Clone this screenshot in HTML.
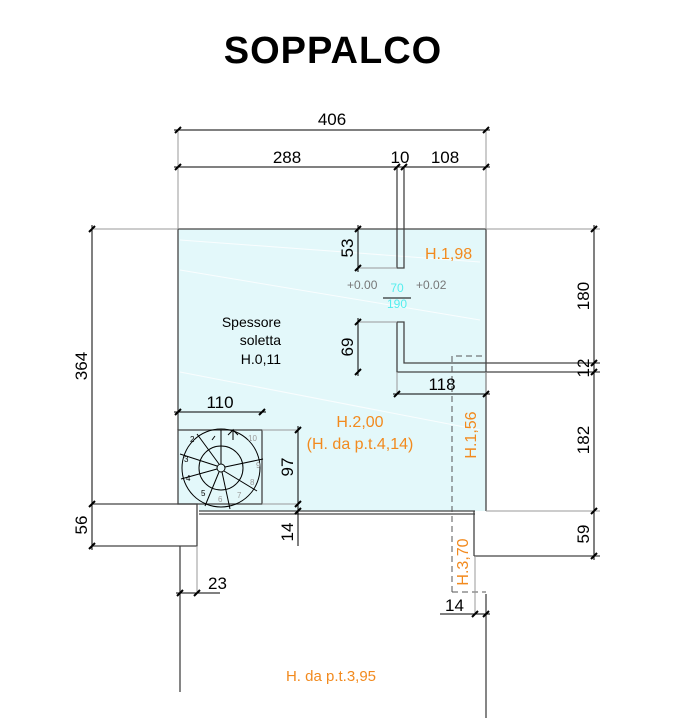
<!DOCTYPE html>
<html><head><meta charset="utf-8"><style>
html,body{margin:0;padding:0;background:#fff;width:693px;height:718px;overflow:hidden}
svg{display:block}
text{font-family:"Liberation Sans",sans-serif}
</style></head><body>
<svg width="693" height="718" viewBox="0 0 693 718" xmlns="http://www.w3.org/2000/svg">
<text x="333" y="63" text-anchor="middle" font-size="38" font-weight="bold" fill="#000" letter-spacing="1">SOPPALCO</text>
<!-- blue fill -->
<path d="M178 229 H486 V511 H199 V504 H178 Z" fill="#e3f8fa"/>
<g stroke="#fff" stroke-width="1" opacity="0.8">
<line x1="180" y1="240" x2="480" y2="262"/><line x1="180" y1="270" x2="480" y2="320"/><line x1="180" y1="372" x2="480" y2="430"/>
</g>
<g stroke="#444" stroke-width="1.3" fill="none">
<path d="M178 229 H486 V511"/>
<line x1="178" y1="229" x2="178" y2="430"/>
<rect x="178" y="430" width="84" height="74"/>
<line x1="199" y1="511" x2="475" y2="511"/><line x1="199" y1="514" x2="475" y2="514"/>
<path d="M92 504 H197 V546 H92"/>
<line x1="180" y1="546" x2="180" y2="692"/>
<line x1="474" y1="511" x2="474" y2="556"/><line x1="474" y1="556" x2="600" y2="556"/>
<line x1="486" y1="594" x2="486" y2="718"/>
<!-- wall -->
<path d="M397 166 V268 H404 V166"/>
<path d="M397 322 H404 V363 H600"/>
<path d="M397 322 V372 H600"/>
</g>
<g stroke="#555" stroke-width="1" stroke-dasharray="6,4" fill="none">
<path d="M452 592 V356 H486"/><line x1="452" y1="592" x2="486" y2="592"/>
</g>
<g stroke="#999" stroke-width="1" fill="none">
<line x1="178" y1="130" x2="178" y2="229"/><line x1="486" y1="130" x2="486" y2="229"/>
<line x1="486" y1="229" x2="600" y2="229"/><line x1="92" y1="229" x2="178" y2="229"/>
<line x1="358" y1="268" x2="397" y2="268"/><line x1="358" y1="322" x2="397" y2="322"/>
<line x1="262" y1="430" x2="298" y2="430"/><line x1="262" y1="504" x2="298" y2="504"/>
<line x1="486" y1="511" x2="600" y2="511"/><line x1="197" y1="546" x2="197" y2="594"/>
<line x1="475" y1="556" x2="475" y2="614"/><line x1="397" y1="372" x2="397" y2="394"/>
<line x1="486" y1="372" x2="486" y2="394"/>
</g>
<g stroke="#000" stroke-width="1" fill="none">
<line x1="174" y1="130" x2="490" y2="130"/>
<line x1="174" y1="167" x2="490" y2="167"/>
<line x1="92" y1="225" x2="92" y2="550"/>
<line x1="594" y1="225" x2="594" y2="560"/>
<line x1="358" y1="225" x2="358" y2="272"/>
<line x1="358" y1="318" x2="358" y2="376"/>
<line x1="393" y1="394" x2="490" y2="394"/>
<line x1="174" y1="412" x2="266" y2="412"/>
<line x1="298" y1="426" x2="298" y2="546"/>
<line x1="176" y1="593" x2="220" y2="593"/>
<line x1="440" y1="614" x2="490" y2="614"/>
<line x1="383" y1="298" x2="411" y2="298"/>
</g>
<g stroke="#000" stroke-width="2">
<path d="M175 133l6-6M483 133l6-6M175 170l6-6M394 170l6-6M401 170l6-6M483 170l6-6
M89 232l6-6M89 507l6-6M89 549l6-6M591 232l6-6M591 366l6-6M591 375l6-6M591 514l6-6M591 559l6-6
M355 232l6-6M355 271l6-6M355 325l6-6M355 375l6-6M394 397l6-6M483 397l6-6M175 415l6-6M259 415l6-6
M295 433l6-6M295 507l6-6M295 514l6-6M177 596l6-6M194 596l6-6M472 617l6-6M483 617l6-6"/>
</g>
<g font-size="17" fill="#000">
<text x="332" y="125" text-anchor="middle">406</text>
<text x="287" y="163" text-anchor="middle">288</text>
<text x="400" y="163" text-anchor="middle">10</text>
<text x="445" y="163" text-anchor="middle">108</text>
<text x="442" y="390" text-anchor="middle">118</text>
<text x="220" y="408" text-anchor="middle">110</text>
<text x="208" y="589">23</text>
<text x="445" y="611">14</text>
<text transform="translate(87,366) rotate(-90)" text-anchor="middle">364</text>
<text transform="translate(87,525) rotate(-90)" text-anchor="middle">56</text>
<text transform="translate(589,296) rotate(-90)" text-anchor="middle">180</text>
<text transform="translate(589,368) rotate(-90)" text-anchor="middle">12</text>
<text transform="translate(589,440) rotate(-90)" text-anchor="middle">182</text>
<text transform="translate(589,534) rotate(-90)" text-anchor="middle">59</text>
<text transform="translate(353,248) rotate(-90)" text-anchor="middle">53</text>
<text transform="translate(353,347) rotate(-90)" text-anchor="middle">69</text>
<text transform="translate(293,467) rotate(-90)" text-anchor="middle">97</text>
<text transform="translate(293,532) rotate(-90)" text-anchor="middle">14</text>
</g>
<g font-size="14" fill="#000" text-anchor="end">
<text x="281" y="327">Spessore</text><text x="281" y="345">soletta</text><text x="281" y="364">H.0,11</text>
</g>
<g font-size="12" fill="#777"><text x="347" y="289">+0.00</text><text x="416" y="289">+0.02</text></g>
<g font-size="12" fill="#5ee" text-anchor="middle"><text x="397" y="292">70</text><text x="397" y="308">190</text></g>
<g font-size="16" fill="#f28a1e">
<text x="425" y="259">H.1,98</text>
<text x="360" y="427" text-anchor="middle">H.2,00</text>
<text x="360" y="449" text-anchor="middle">(H. da p.t.4,14)</text>
<text transform="translate(476,435) rotate(-90)" text-anchor="middle">H.1,56</text>
<text transform="translate(468,562) rotate(-90)" text-anchor="middle">H.3,70</text>
<text x="331" y="681" text-anchor="middle" font-size="15">H. da p.t.3,95</text>
</g>
<!-- spiral stair -->
<g stroke="#000" stroke-width="1" fill="none">
<circle cx="221" cy="468" r="39"/><circle cx="221" cy="468" r="22"/><circle cx="221" cy="468" r="4"/>
<path d="M221 464V430M225 467l38-8M224 471l33 20M222 472l8 37M219 472l-14 34M217 469l-36 10M217 466l-37-12M219 464l-22-30M212 440l3 -4M233 440l0-10l-5 5M233 430l5 5"/>
</g>
<g font-size="8" fill="#000"><text x="190" y="442">2</text><text x="184" y="462">3</text><text x="186" y="481">4</text><text x="201" y="496">5</text><text x="218" y="502" fill="#999">6</text><text x="237" y="498" fill="#999">7</text><text x="250" y="485" fill="#999">8</text><text x="256" y="468" fill="#999">9</text><text x="248" y="441" fill="#999">10</text></g>
</svg>
</body></html>
